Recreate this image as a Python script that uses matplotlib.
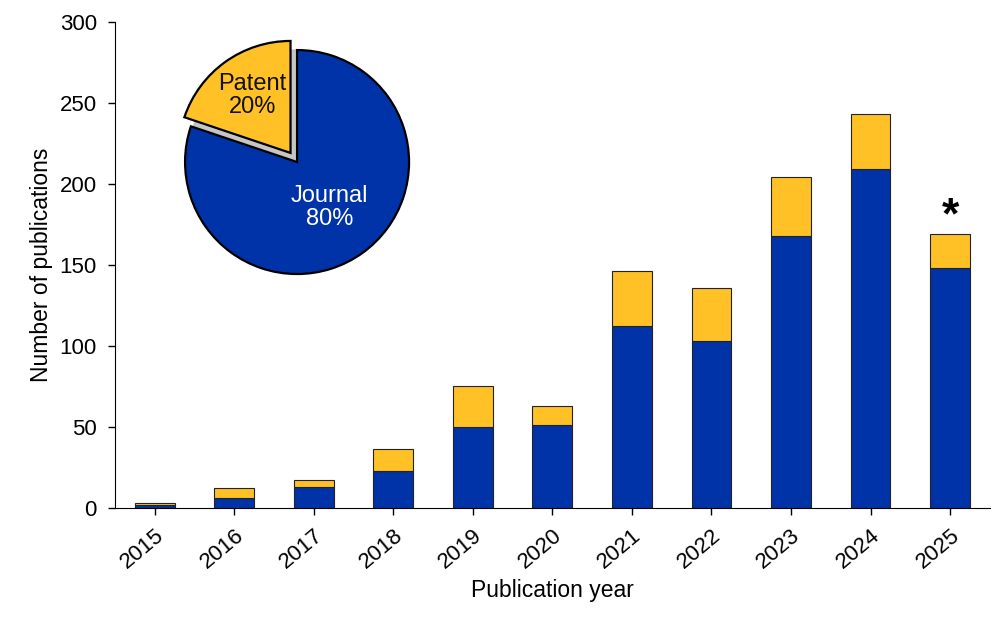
import numpy as np
import matplotlib.pyplot as plt
from matplotlib.patches import Shadow

plt.rcParams['font.family'] = ['Liberation Sans', 'DejaVu Sans']

years = ['2015', '2016', '2017', '2018', '2019', '2020', '2021', '2022', '2023', '2024', '2025']
journal = [2, 6, 13, 23, 50, 51, 112, 103, 168, 209, 148]
patent = [1, 6, 4, 13, 25, 12, 34, 33, 36, 34, 21]
pie_labels = ['Patent', 'Journal']

blue = '#0033a8'
yellow = '#ffc125'

fig = plt.figure(figsize=(10.08, 6.3), dpi=100)
ax = fig.add_axes([0.114, 0.194, 0.868, 0.771])

x = np.arange(len(years))
ax.bar(x, journal, width=0.5, color=blue, edgecolor='#222222', linewidth=0.8, zorder=2)
ax.bar(x, patent, width=0.5, bottom=journal, color=yellow, edgecolor='#222222',
       linewidth=0.8, zorder=2)

totals = np.array(journal) + np.array(patent)
ax.text(x[-1], totals[-1] - 2, '*', ha='center', va='bottom', fontsize=32,
        fontweight='bold')

ax.set_xlim(-0.5, len(years) - 0.5)
ax.set_ylim(0, 300)
ax.set_yticks(range(0, 301, 50))
ax.set_xticks(x)
ax.set_xticklabels(years, rotation=40, ha='right', rotation_mode='anchor')
ax.tick_params(axis='both', labelsize=16, direction='out', length=5, width=1)
ax.tick_params(axis='x', pad=7)
ax.tick_params(axis='y', pad=8)
ax.spines['top'].set_visible(False)
ax.spines['right'].set_visible(False)
ax.set_xlabel('Publication year', fontsize=16.5, labelpad=5)
ax.set_ylabel('Number of publications', fontsize=16.5, labelpad=5)

# inset pie
pax = fig.add_axes([0.1558, 0.5206, 0.2778, 0.4444])
sizes = [sum(patent), sum(journal)]
wedges, _ = pax.pie(sizes, colors=[yellow, blue], startangle=90, explode=[0.1, 0],
                    wedgeprops=dict(edgecolor='black', linewidth=1.6))
sh = Shadow(wedges[0], 0.06, -0.06, facecolor='#c0c0c0', edgecolor='#c0c0c0',
            alpha=0.9)
sh.set_zorder(wedges[0].get_zorder() - 0.5)
pax.add_patch(sh)
pax.set_aspect('equal')

frac = np.array(sizes) / sum(sizes)
start = 90
for i, (lab, f) in enumerate(zip(pie_labels, frac)):
    mid = np.deg2rad(start + 360 * f / 2)
    start += 360 * f
    r = 0.73 if i == 0 else 0.5
    pax.text(r * np.cos(mid) + (0.03 if i == 0 else 0), r * np.sin(mid), f'{lab}\n{f * 100:.0f}%',
             ha='center', va='center', fontsize=17,
             color='#111111' if i == 0 else 'white', linespacing=1.05)

fig.savefig('out.png', dpi=100)
